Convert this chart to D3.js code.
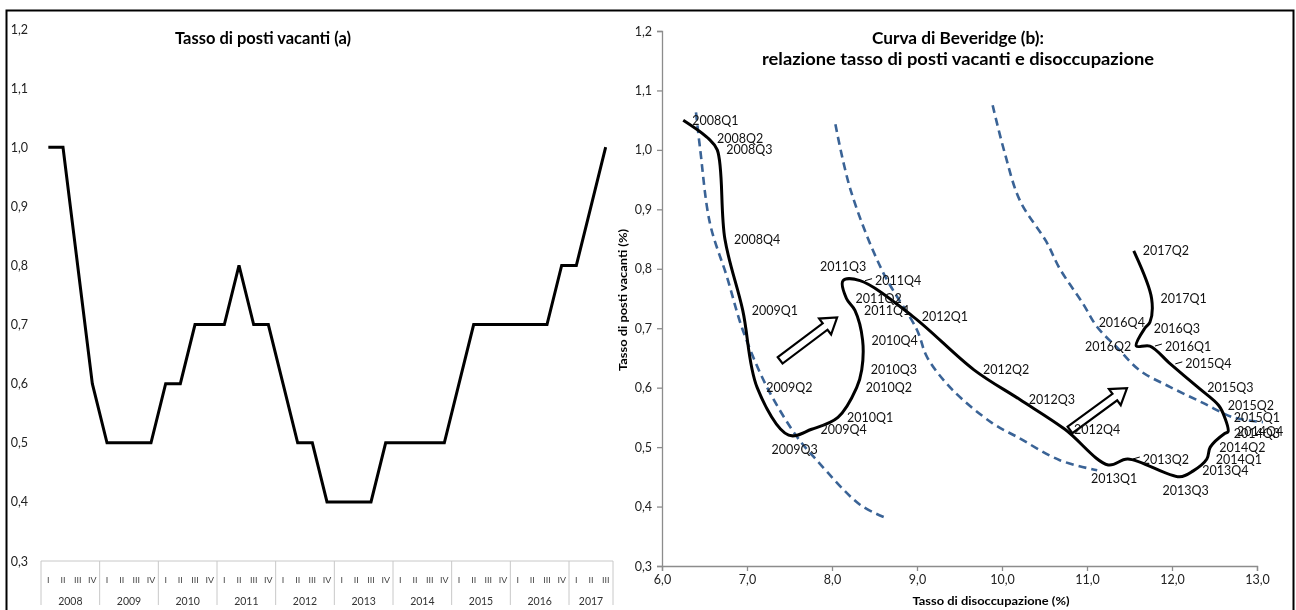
<!DOCTYPE html>
<html><head><meta charset="utf-8">
<script src="https://cdn.jsdelivr.net/npm/d3@7"></script>
<style>
body{margin:0;background:#fff;}
svg{display:block;font-family:Lato,"Open Sans",sans-serif;}
.gs{filter:grayscale(1);}
</style></head><body>
<svg id="c" width="1296" height="610"></svg>
<script>
// ---------- DATA ----------
const years = ["2008","2009","2010","2011","2012","2013","2014","2015","2016","2017"];
const quarterNames = ["I","II","III","IV"];
const vacancyRate = [
  1.0,1.0,0.8,0.6,
  0.5,0.5,0.5,0.5,
  0.6,0.6,0.7,0.7,
  0.7,0.8,0.7,0.7,
  0.6,0.5,0.5,0.4,
  0.4,0.4,0.4,0.5,
  0.5,0.5,0.5,0.5,
  0.6,0.7,0.7,0.7,
  0.7,0.7,0.7,0.8,
  0.8,0.9,1.0
];
const vacancyTicks = [0.3,0.4,0.5,0.6,0.7,0.8,0.9,1.0,1.1,1.2];
const unempTicks = [6,7,8,9,10,11,12,13];

const bevLabels = ["2008Q1","2008Q2","2008Q3","2008Q4","2009Q1","2009Q2","2009Q3","2009Q4",
  "2010Q1","2010Q2","2010Q3","2010Q4","2011Q1","2011Q2","2011Q3","2011Q4",
  "2012Q1","2012Q2","2012Q3","2012Q4","2013Q1","2013Q2","2013Q3","2013Q4",
  "2014Q1","2014Q2","2014Q3","2014Q4","2015Q1","2015Q2","2015Q3","2015Q4",
  "2016Q1","2016Q2","2016Q3","2016Q4","2017Q1","2017Q2"];
const bevUnemp = [6.25,6.54,6.65,6.74,6.95,7.12,7.49,7.76,
  8.07,8.29,8.35,8.36,8.27,8.17,8.13,8.33,
  8.95,9.67,10.21,10.74,11.25,11.48,12.09,12.25,
  12.41,12.45,12.62,12.66,12.62,12.55,12.31,11.98,
  11.74,11.58,11.68,11.74,11.76,11.55];
const bevVacancy = [1.05,1.02,1.00,0.85,0.73,0.60,0.52,0.53,
  0.55,0.60,0.63,0.68,0.73,0.75,0.78,0.78,
  0.72,0.63,0.58,0.53,0.47,0.48,0.45,0.46,
  0.48,0.50,0.523,0.526,0.55,0.57,0.60,0.64,
  0.67,0.67,0.70,0.71,0.75,0.83];
const bevLabelPlacement = ["r","r","r","r","r","r","b","r",
  "r","r","r","r","r","r","a","rl",
  "r","r","r","r","b","rl","b","r",
  "r","r","r","r","r","r","r","rl",
  "rl","l","r","l","r","r"];

const iso1Unemp = [6.40,6.45,6.565,6.765,6.95,7.235,7.59,7.82,8.33,8.635];
const iso1Vac   = [1.063,1.00,0.876,0.786,0.697,0.601,0.517,0.478,0.403,0.381];
const iso2Unemp = [8.04,8.22,8.59,9.0,9.12,9.42,9.89,10.18,10.68,11.12];
const iso2Vac   = [1.043,0.932,0.797,0.697,0.651,0.596,0.540,0.517,0.478,0.461];
const iso3Unemp = [9.89,10.03,10.21,10.52,10.68,10.95,11.12,11.35,11.62,11.98,12.37,12.72,13.07];
const iso3Vac   = [1.075,0.996,0.915,0.846,0.800,0.742,0.702,0.668,0.629,0.601,0.574,0.550,0.542];

const arrowFromUnemp = [7.39, 10.80];
const arrowFromVac   = [0.646, 0.529];
const arrowToUnemp   = [8.06, 11.47];
const arrowToVac     = [0.718, 0.599];

// ---------- DRAW ----------
const svg = d3.select("#c");
const fmt = d => d.toFixed(1).replace(".", ",");

// ===== Left chart =====
const qKeys = [];
years.forEach(y => quarterNames.forEach(q => { if (qKeys.length < vacancyRate.length) qKeys.push(y + "-" + q); }));
const xL = d3.scaleBand().domain(qKeys).range([41, 613]);
const yL = d3.scaleLinear().domain([0.3, 1.2]).range([561, 29]);
const bw = xL.bandwidth();

const gL = svg.append("g");
const gLt = gL.append("g").attr("class", "gs");
gLt.selectAll("text.yl").data(vacancyTicks).join("text")
  .attr("x", 28).attr("y", d => yL(d)).attr("text-anchor", "end")
  .attr("dominant-baseline", "central").attr("font-size", 12.5).attr("fill", "#222")
  .text(fmt);

gLt.append("text").attr("x", 263).attr("y", 44).attr("text-anchor", "middle")
  .attr("font-size", 17).attr("font-weight", "bold")
  .attr("textLength", 176).attr("lengthAdjust", "spacingAndGlyphs")
  .text("Tasso di posti vacanti (a)");

// category axis
gL.append("line").attr("x1", 41).attr("x2", 613).attr("y1", yL(0.3)).attr("y2", yL(0.3))
  .attr("stroke", "#c8c8c8").attr("stroke-width", 1);
const yearStarts = years.map(y => qKeys.find(k => k.startsWith(y)));
const sepX = yearStarts.map(k => xL(k)).concat([xL.range()[1]]);
gL.selectAll("line.sep").data(sepX).join("line")
  .attr("x1", d => d).attr("x2", d => d).attr("y1", yL(0.3)).attr("y2", 605)
  .attr("stroke", "#c8c8c8").attr("stroke-width", 1);
const gQ = gL.append("g").attr("class", "gs");
gQ.selectAll("text.q").data(qKeys).join("text")
  .attr("x", d => xL(d) + bw / 2).attr("y", 580).attr("text-anchor", "middle")
  .attr("dominant-baseline", "central").attr("font-size", 9).attr("fill", "#404040")
  .attr("font-family", "'Liberation Sans',sans-serif")
  .text(d => d.split("-")[1]);
gQ.selectAll("text.yr").data(years).join("text")
  .attr("x", (d, i) => (sepX[i] + sepX[i + 1]) / 2).attr("y", 601).attr("text-anchor", "middle")
  .attr("dominant-baseline", "central").attr("font-size", 10.5).attr("fill", "#333")
  .text(d => d);

gL.append("path").datum(vacancyRate)
  .attr("d", d3.line().x((d, i) => xL(qKeys[i]) + bw / 2).y(d => yL(d)))
  .attr("fill", "none").attr("stroke", "#000").attr("stroke-width", 3)
  .attr("stroke-linejoin", "miter");

// ===== Right chart =====
const xR = d3.scaleLinear().domain([6, 13]).range([662, 1257]);
const yR = d3.scaleLinear().domain([0.3, 1.2]).range([566, 31]);
const gR = svg.append("g");

const ax = gR.append("g").attr("class", "gs").attr("transform", `translate(0,${yR(0.3)})`)
  .call(d3.axisBottom(xR).tickValues(unempTicks).tickFormat(fmt).tickSize(5).tickPadding(4).tickSizeOuter(5));
const ay = gR.append("g").attr("class", "gs").attr("transform", `translate(${xR(6)},0)`)
  .call(d3.axisLeft(yR).tickValues(vacancyTicks).tickFormat(fmt).tickSize(5).tickPadding(5).tickSizeOuter(5));
[ax, ay].forEach(a => {
  a.select(".domain").attr("stroke", "#8c8c8c").attr("stroke-width", 1.3);
  a.selectAll(".tick line").attr("stroke", "#8c8c8c").attr("stroke-width", 1.3);
  a.selectAll(".tick text").attr("font-size", 12.5).attr("fill", "#222")
    .attr("font-family", "Lato,'Open Sans',sans-serif");
});

const gRt = gR.append("g").attr("class", "gs");
gRt.append("text").attr("x", 991).attr("y", 605).attr("text-anchor", "middle")
  .attr("font-size", 12).attr("font-weight", "bold")
  .attr("textLength", 157).attr("lengthAdjust", "spacingAndGlyphs")
  .text("Tasso di disoccupazione (%)");
gRt.append("text").attr("transform", "translate(627,300) rotate(-90)").attr("text-anchor", "middle")
  .attr("font-size", 12).attr("font-weight", "bold")
  .attr("textLength", 142).attr("lengthAdjust", "spacingAndGlyphs")
  .text("Tasso di posti vacanti (%)");
gRt.append("text").attr("x", 958).attr("y", 44).attr("text-anchor", "middle")
  .attr("font-size", 17).attr("font-weight", "bold")
  .attr("textLength", 172).attr("lengthAdjust", "spacingAndGlyphs")
  .text("Curva di Beveridge (b):");
gRt.append("text").attr("x", 958).attr("y", 65).attr("text-anchor", "middle")
  .attr("font-size", 17).attr("font-weight", "bold")
  .attr("textLength", 392).attr("lengthAdjust", "spacingAndGlyphs")
  .text("relazione tasso di posti vacanti e disoccupazione");

// iso curves
const smooth = d3.line().x(d => xR(d[0])).y(d => yR(d[1])).curve(d3.curveCatmullRom.alpha(0.5));
[[iso1Unemp, iso1Vac], [iso2Unemp, iso2Vac], [iso3Unemp, iso3Vac]].forEach(([u, v]) => {
  gR.append("path").datum(u.map((d, i) => [d, v[i]])).attr("d", smooth)
    .attr("fill", "none").attr("stroke", "#3A6396").attr("stroke-width", 2.6)
    .attr("stroke-dasharray", "8,5");
});

// Beveridge path
const bevPts = bevUnemp.map((d, i) => [d, bevVacancy[i]]);
gR.append("path").datum(bevPts).attr("d", smooth)
  .attr("fill", "none").attr("stroke", "#000").attr("stroke-width", 3);

// arrows
arrowFromUnemp.forEach((u, i) => {
  const x0 = xR(u), y0 = yR(arrowFromVac[i]), x1 = xR(arrowToUnemp[i]), y1 = yR(arrowToVac[i]);
  const L = Math.hypot(x1 - x0, y1 - y0), ang = Math.atan2(y1 - y0, x1 - x0) * 180 / Math.PI;
  const sw = 4, hw = 10, hl = 15;
  const pts = [[0, -sw], [L - hl, -sw], [L - hl, -hw], [L, 0], [L - hl, hw], [L - hl, sw], [0, sw]];
  gR.append("polygon").attr("points", pts.map(p => p.join(",")).join(" "))
    .attr("transform", `translate(${x0},${y0}) rotate(${ang})`)
    .attr("fill", "#fff").attr("stroke", "#000").attr("stroke-width", 2.2)
    .attr("stroke-linejoin", "miter");
});

// labels
const lab = gR.append("g").attr("class", "gs").attr("font-size", 12.5).attr("fill", "#111");
bevLabels.forEach((t, i) => {
  const px = xR(bevUnemp[i]), py = yR(bevVacancy[i]);
  const p = bevLabelPlacement[i];
  let x = px + 9, y = py, anchor = "start";
  if (p === "l") { x = px - 5; anchor = "end"; }
  if (p === "a") { x = px; y = py - 14; anchor = "middle"; }
  if (p === "b") { x = px + 6; y = py + 14; anchor = "middle"; }
  if (p === "rl") {
    x = px + 15;
    lab.append("line").attr("x1", px + 5).attr("x2", px + 12).attr("y1", py).attr("y2", py - 2)
      .attr("stroke", "#000").attr("stroke-width", 1);
  }
  lab.append("text").attr("x", x).attr("y", y).attr("text-anchor", anchor)
    .attr("dominant-baseline", "central").text(t);
});

// outer frame
svg.append("path").attr("d", "M6.5,610 V10.5 H1293.5 V610")
  .attr("fill", "none").attr("stroke", "#000").attr("stroke-width", 2);
</script>
</body></html>
